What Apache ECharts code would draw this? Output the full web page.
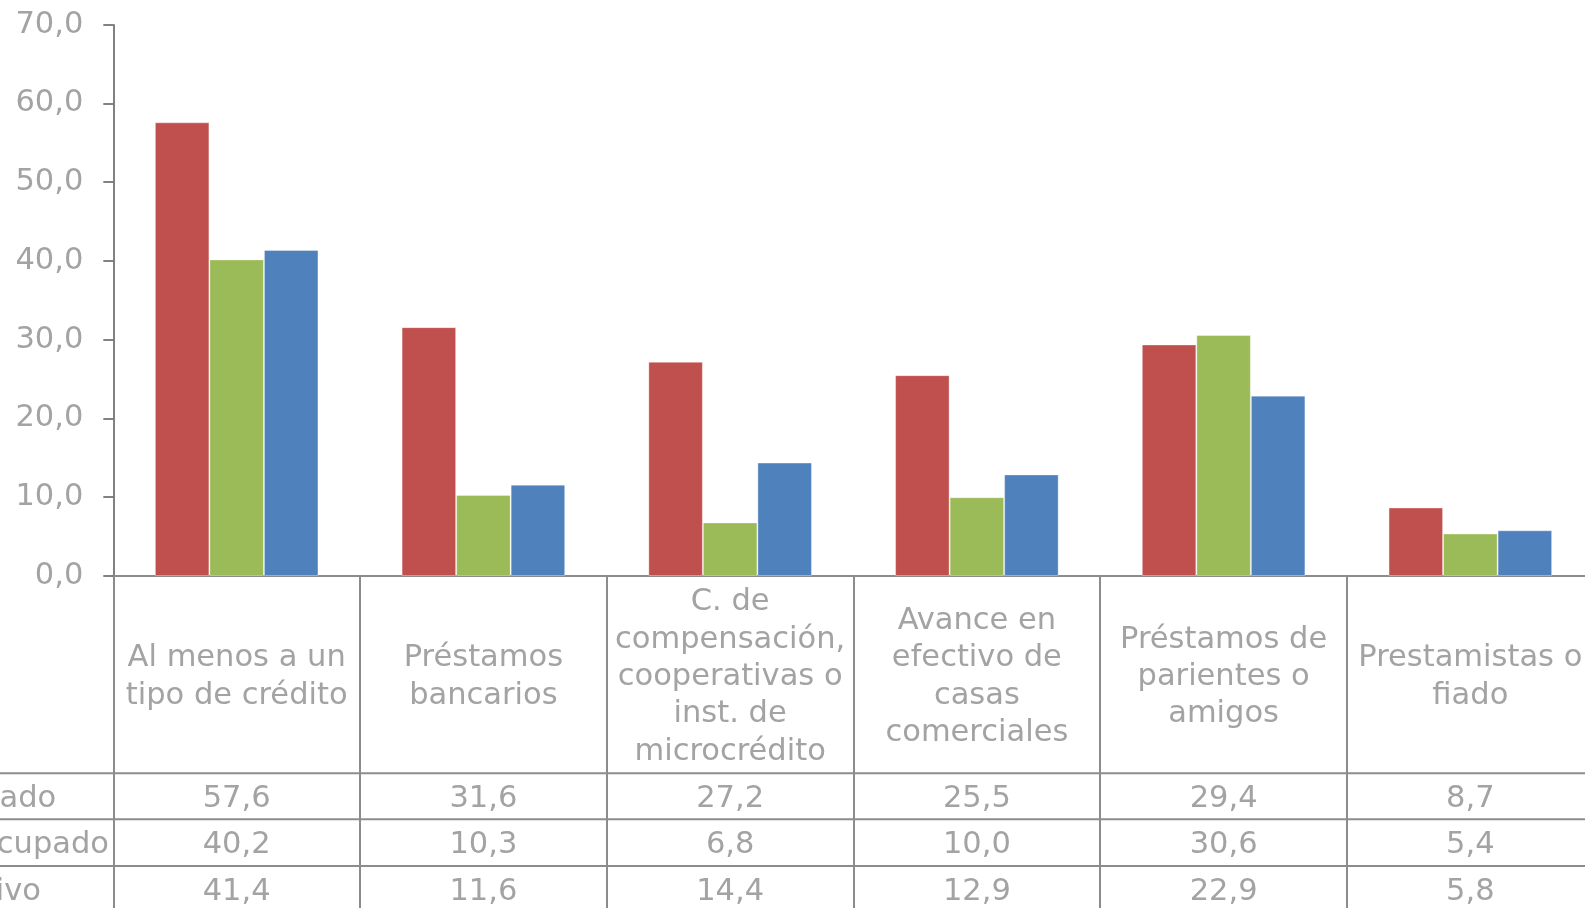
<!DOCTYPE html>
<html>
<head>
<meta charset="utf-8">
<script src="https://cdn.jsdelivr.net/npm/echarts@6/dist/echarts.min.js"></script>
<style>
  html, body { margin: 0; padding: 0; background: #fff; overflow: hidden; }
  #chart { width: 1600px; height: 908px; }
</style>
</head>
<body>
<div id="chart"></div>
<script>
// tipos de crédito
var categories = [
  'Al menos a un\ntipo de crédito',
  'Préstamos\nbancarios',
  'C. de\ncompensación,\ncooperativas o\ninst. de\nmicrocrédito',
  'Avance en\nefectivo de\ncasas\ncomerciales',
  'Préstamos de\nparientes o\namigos',
  'Prestamistas o\nfiado'
];
var seriesNames = ['Ocupado', 'Desocupado', 'Inactivo'];
var ocupado = [57.6, 31.6, 27.2, 25.5, 29.4, 8.7];
var desocupado = [40.2, 10.3, 6.8, 10.0, 30.6, 5.4];
var inactivo = [41.4, 11.6, 14.4, 12.9, 22.9, 5.8];
var yTicks = [0, 10, 20, 30, 40, 50, 60, 70];

(function () {
  var text = '#a3a3a3';
  var line = '#8c8c8c';
  var dark = '#595959';
  var font = '"DejaVu Sans", Verdana, sans-serif';
  var colors = ['#C0504D', '#9BBB59', '#4F81BD'];
  var values = [ocupado, desocupado, inactivo];

  // the plot runs past the right edge of the 1585px window, as in the original
  var gridTop = 24.7, zeroY = 576, gridLeft = 113.3, gridWidth = 1480.4;
  var rowLines = [773.3, 819.3, 866, 912.3];
  var nudge = 2.5; // DejaVu sits a little higher than Verdana

  function fmt(v) { return v.toFixed(1).replace('.', ','); }

  var chart = echarts.init(document.getElementById('chart'), null, { renderer: 'canvas' });

  var xAxes = [{
    type: 'category',
    data: categories,
    position: 'bottom',
    axisLine: { lineStyle: { color: line, width: 2 } },
    axisTick: { show: true, interval: 0, length: 340, lineStyle: { color: line, width: 2 } },
    axisLabel: {
      interval: 0, color: text, fontFamily: font, fontSize: 30.5, lineHeight: 37.4,
      verticalAlign: 'middle', align: 'center', margin: (rowLines[0] + zeroY) / 2 - zeroY + nudge
    }
  }];
  // filas de la tabla de datos
  values.forEach(function (vals, i) {
    xAxes.push({
      type: 'category',
      data: vals.map(fmt),
      position: 'bottom',
      axisLine: { show: false },
      axisTick: { show: false },
      axisLabel: {
        interval: 0, color: text, fontFamily: font, fontSize: 30.5,
        verticalAlign: 'middle', margin: (rowLines[i] + rowLines[i + 1]) / 2 - zeroY + nudge
      }
    });
  });

  var graphics = [];
  rowLines.forEach(function (y) {
    graphics.push({
      type: 'line', silent: true,
      shape: { x1: 0, y1: y, x2: 1600, y2: y },
      style: { stroke: line, lineWidth: 2 }
    });
  });
  seriesNames.forEach(function (n, i) {
    graphics.push({
      type: 'text', silent: true,
      x: -80, y: (rowLines[i] + rowLines[i + 1]) / 2 + nudge,
      style: { text: n, fill: text, font: '30.5px ' + font, textAlign: 'left', textVerticalAlign: 'middle' }
    });
  });

  chart.setOption({
    animation: false,
    grid: { left: gridLeft, top: gridTop, width: gridWidth, bottom: 908 - zeroY, containLabel: false },
    xAxis: xAxes,
    yAxis: {
      type: 'value',
      min: yTicks[0],
      max: yTicks[yTicks.length - 1],
      interval: 10,
      axisLine: { show: true, lineStyle: { color: dark, width: 1.5 } },
      axisTick: { show: true, length: 10, lineStyle: { color: dark, width: 1.5 } },
      splitLine: { show: false },
      axisLabel: {
        color: text, fontFamily: font, fontSize: 30.5, margin: 30,
        padding: [nudge * 2, 0, 0, 0],
        formatter: function (v) { return fmt(v); }
      }
    },
    series: values.map(function (vals, i) {
      return {
        name: seriesNames[i],
        type: 'bar',
        data: vals,
        barGap: '0%',
        barCategoryGap: '33.7%',
        itemStyle: { color: colors[i], borderColor: 'rgba(255,255,255,0.35)', borderWidth: 1 }
      };
    }),
    graphic: graphics
  });
})();
</script>
</body>
</html>
